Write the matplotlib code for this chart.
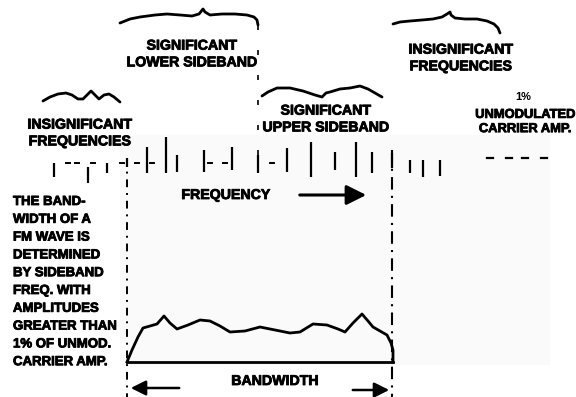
import matplotlib
matplotlib.use("Agg")
import matplotlib.pyplot as plt
import matplotlib.patheffects as pe
from matplotlib.patches import Rectangle, FancyArrowPatch

plt.rcParams['font.family'] = ['Liberation Sans', 'DejaVu Sans']

# ---- data (pixel-like coordinates, y downward) ----
# spectral lines: x position, top, bottom
line_x   = [54, 88, 107, 127, 147, 166, 177, 204, 232, 258, 287, 311, 335, 356, 372, 392, 410, 423, 440]
line_top = [163, 167, 163, 158, 147, 137, 155, 150, 147, 155, 148, 142, 152, 142, 152, 153, 160, 160, 160]
line_bot = [177, 183, 173, 167, 173, 173, 172, 172, 170, 173, 172, 177, 170, 177, 173, 168, 173, 177, 176]
# small dashes along the baseline
dash_x = [68, 77, 93, 122, 137, 152, 210, 225, 272]
dash_y = 163
# unmodulated carrier reference dashes
ref_x = [490, 509, 525, 544]
ref_y = 158

# bandwidth envelope
env_x = [127, 132, 138, 143, 150, 157, 164, 170, 177, 188, 200, 210, 220, 230, 245, 260, 275, 290,
         300, 313, 327, 338, 345, 353, 362, 368, 373, 380, 387, 391, 393, 393]
env_y = [362, 350, 337, 328, 326, 324, 316, 323, 329, 325, 320, 321, 326, 332, 331, 327, 330, 333,
         332, 324, 325, 329, 332, 323, 314, 321, 327, 331, 335, 343, 350, 362]
base_y = 362

# braces / wavy marks
brace1_x = [120, 130, 140, 155, 167, 180, 192, 199, 203, 205, 210, 222, 235, 247, 254, 257, 258]
brace1_y = [23, 19, 17, 15, 14, 15, 16, 14, 9, 12, 15, 14, 14, 15, 17, 20, 25]
brace2_x = [393, 400, 410, 422, 433, 442, 447, 450, 451, 455, 465, 477, 487, 494, 498, 500]
brace2_y = [24, 22, 21, 20, 19, 17, 14, 12, 15, 18, 19, 19, 21, 24, 28, 33]
brace3_x = [262, 268, 277, 290, 303, 315, 322, 326, 330, 340, 350, 360, 368, 375, 382]
brace3_y = [96, 92, 88, 88, 91, 95, 97, 93, 92, 89, 88, 86, 89, 93, 97]
wave_x = [43, 50, 58, 66, 72, 78, 83, 88, 91, 95, 99, 104, 109, 114, 120]
wave_y = [101, 97, 94, 93, 95, 99, 99, 94, 91, 95, 99, 95, 94, 97, 102]

left_text = ["THE BAND-", "WIDTH OF A", "FM WAVE IS", "DETERMINED", "BY SIDEBAND",
             "FREQ. WITH", "AMPLITUDES", "GREATER THAN", "1% OF UNMOD.", "CARRIER AMP."]

W, H = 576, 397
fig = plt.figure(figsize=(5.76, 3.97), dpi=100)
ax = fig.add_axes([0, 0, 1, 1])
ax.set_xlim(0, W)
ax.set_ylim(H, 0)
ax.axis('off')

ax.add_patch(Rectangle((120, 135), 430, 230, facecolor='#fafafa', edgecolor='none', zorder=0))

k = 'black'
for x, t, b in zip(line_x, line_top, line_bot):
    ax.plot([x, x], [t, b], color=k, lw=1.6, solid_capstyle='butt')
for x in dash_x:
    ax.plot([x - 2, x + 2], [dash_y, dash_y], color=k, lw=1.4)
for x in ref_x:
    ax.plot([x - 3, x + 3], [ref_y, ref_y], color=k, lw=1.6)

# boundary lines
ax.plot([127, 127], [158, 397], color=k, lw=1.4, linestyle=(0, (4, 3, 1, 3)))
ax.plot([392, 392], [150, 397], color=k, lw=1.5, linestyle=(0, (6, 3, 1, 3)))
ax.plot([258, 258], [25, 172], color=k, lw=1.2, linestyle=(0, (3, 12)))

# envelope
ax.plot(env_x, env_y, color=k, lw=2.0, solid_joinstyle='round')
ax.plot([127, 393], [base_y, base_y], color=k, lw=2.0)

# braces
for bx, by in [(brace1_x, brace1_y), (brace2_x, brace2_y), (brace3_x, brace3_y), (wave_x, wave_y)]:
    ax.plot(bx, by, color=k, lw=2.0, solid_capstyle='round', solid_joinstyle='round')

bold = [pe.withStroke(linewidth=0.6, foreground='black')]
fs = 10.2
tk = dict(fontsize=fs, fontweight='bold', color=k, linespacing=1.25, path_effects=bold)
ax.text(192, 54, "SIGNIFICANT\nLOWER SIDEBAND", ha='center', va='center', **tk)
ax.text(80, 133, "INSIGNIFICANT\nFREQUENCIES", ha='center', va='center', **tk)
ax.text(326, 119, "SIGNIFICANT\nUPPER SIDEBAND", ha='center', va='center', **tk)
ax.text(461, 58, "INSIGNIFICANT\nFREQUENCIES", ha='center', va='center', **tk)
ax.text(523, 97, "1%", ha='center', va='center', fontsize=8, fontweight='bold', color=k)
ax.text(525, 122, "UNMODULATED\nCARRIER AMP.", ha='center', va='center',
        fontsize=9.3, fontweight='bold', color=k, linespacing=1.25, path_effects=bold)
ax.text(226, 195, "FREQUENCY", ha='center', va='center', **tk)
ax.text(275, 381, "BANDWIDTH", ha='center', va='center', **tk)
for i, s in enumerate(left_text):
    ax.text(13, 202 + i * 17.8, s, ha='left', va='center', fontsize=9.5, fontweight='bold',
            color=k, path_effects=bold)

# arrows
ax.add_patch(FancyArrowPatch((297, 195), (369, 195), arrowstyle='-|>,head_length=8,head_width=4',
                             color=k, lw=2.2, mutation_scale=1.5))
ax.add_patch(FancyArrowPatch((182, 388), (128, 388), arrowstyle='-|>,head_length=6,head_width=3',
                             color=k, lw=1.8, mutation_scale=1.5))
ax.add_patch(FancyArrowPatch((350, 390), (392, 390), arrowstyle='-|>,head_length=6,head_width=3',
                             color=k, lw=1.8, mutation_scale=1.5))

fig.savefig("out.png", dpi=100)
